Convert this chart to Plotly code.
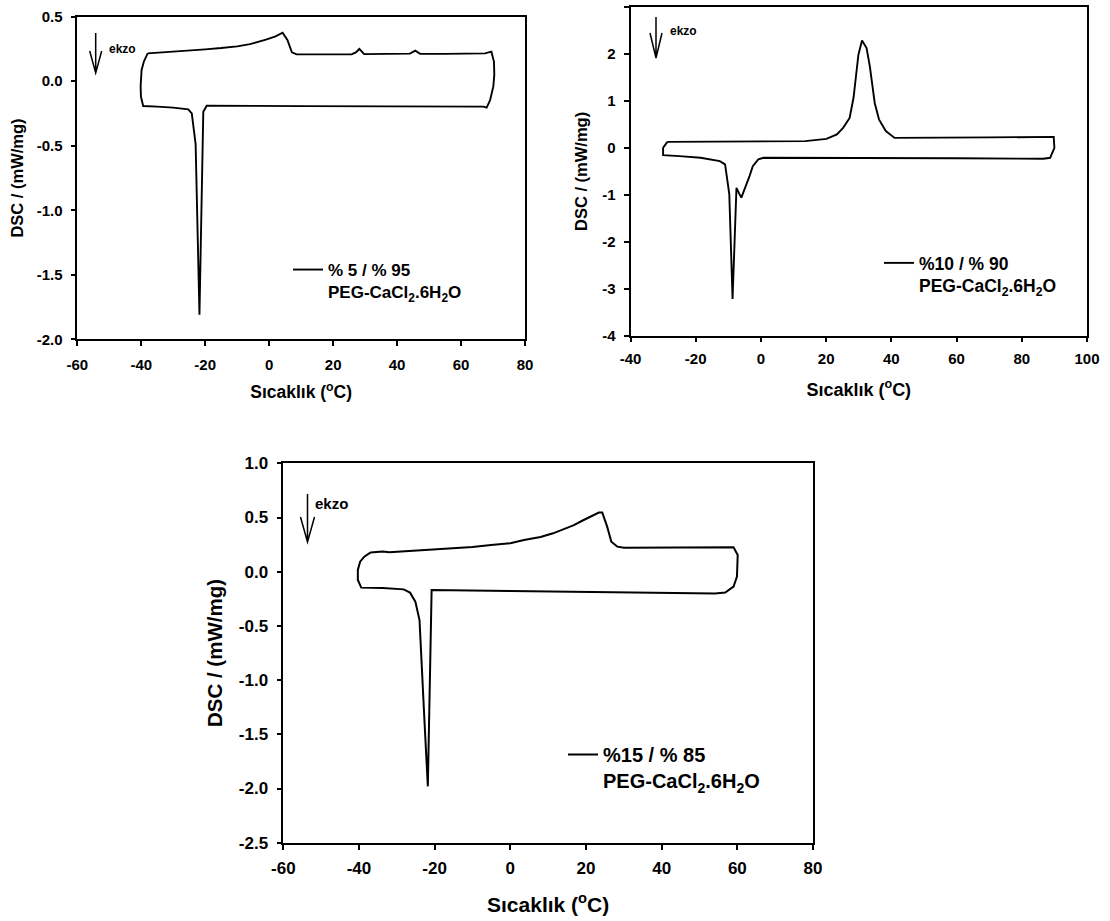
import plotly.graph_objects as go

# ---------------- data ----------------
# Panel A: %5 / %95 PEG-CaCl2.6H2O  (closed DSC loop: heating top, cooling bottom)
t5 = [-38.0, -34, -30, -25, -20, -15, -10, -6, -3.9, -1, 2, 4.2, 5.7, 7.1, 8.6, 15, 25.8, 27.2,
      28.2, 29.7, 35, 44.0, 45.7, 47.2, 55, 67.5, 69.5, 70.3, 70.4, 70.1, 69.1, 68.0, 67.0, 50, 30,
      10, -5, -11.2, -19.55, -20.6, -21.8, -23.0, -24.2, -25.3, -30, -35, -39.4, -40.1, -40.2,
      -39.9, -39.2, -38.0]
d5 = [0.216, 0.222, 0.229, 0.237, 0.247, 0.257, 0.270, 0.288, 0.300, 0.322, 0.348, 0.376, 0.32,
      0.224, 0.208, 0.207, 0.208, 0.225, 0.25, 0.21, 0.21, 0.214, 0.237, 0.213, 0.212, 0.216, 0.229,
      0.15, 0.05, -0.04, -0.146, -0.205, -0.197, -0.197, -0.195, -0.193, -0.191, -0.191, -0.19,
      -0.236, -1.81, -0.487, -0.249, -0.218, -0.205, -0.197, -0.192, -0.12, -0.04, 0.087, 0.151, 0.216]

# Panel B: %10 / %90
t10 = [-28.7, -20, 0, 13.6, 20.1, 23.3, 25.2, 27.2, 28.4, 29.9, 31.0, 32.4, 33.4, 34.9, 36.2, 38.3,
       41.0, 45.8, 70, 89.8, 90.0, 88.7, 86.6, 60, 30, 13.6, 0.8, -0.8, -2.5, -3.5, -5.1, -6.0, -6.7,
       -7.5, -8.7, -9.7, -10.2, -11.0, -12.6, -18.5, -25, -30.0, -30.0, -28.7]
d10 = [0.13, 0.13, 0.135, 0.145, 0.194, 0.29, 0.43, 0.64, 1.07, 1.99, 2.29, 2.13, 1.74, 0.96, 0.61,
       0.36, 0.215, 0.215, 0.225, 0.237, 0.003, -0.21, -0.23, -0.22, -0.21, -0.21, -0.21, -0.245,
       -0.387, -0.6, -0.92, -1.06, -0.97, -0.85, -3.22, -0.99, -0.74, -0.35, -0.28, -0.21, -0.175,
       -0.153, 0.003, 0.13]

# Panel C: %15 / %85
t15 = [-37.0, -35, -33.7, -32.0, -29.3, -20, -16.1, -10, -5.1, 0, 3.6, 8, 11.3, 14, 16.8, 19, 21.2,
       23.4, 24.3, 25.6, 26.7, 28.3, 30.0, 45, 59.0, 60.1, 59.9, 59.0, 56.8, 54.1, 35, 16.8, 0, -20.8,
       -21.8, -22.7, -24.0, -25.1, -26.5, -28.2, -33.7, -39.4, -40.3, -40.3, -39.7, -38.6, -37.0]
d15 = [0.176, 0.185, 0.186, 0.179, 0.185, 0.205, 0.216, 0.228, 0.246, 0.262, 0.293, 0.32, 0.354,
       0.39, 0.43, 0.47, 0.508, 0.545, 0.545, 0.416, 0.277, 0.231, 0.222, 0.222, 0.225, 0.154, -0.046,
       -0.138, -0.193, -0.2, -0.19, -0.184, -0.177, -0.169, -1.98, -1.37, -0.446, -0.276, -0.193,
       -0.163, -0.15, -0.147, -0.076, 0.016, 0.093, 0.139, 0.176]

names = ["% 5 / % 95<br>PEG-CaCl<sub>2</sub>.6H<sub>2</sub>O",
         "%10 / % 90<br>PEG-CaCl<sub>2</sub>.6H<sub>2</sub>O",
         "%15 / % 85<br>PEG-CaCl<sub>2</sub>.6H<sub>2</sub>O"]

xt_a = [-60, -40, -20, 0, 20, 40, 60, 80]
xt_b = [-40, -20, 0, 20, 40, 60, 80, 100]
yt_a = [-2.0, -1.5, -1.0, -0.5, 0.0, 0.5]
yt_b = [-4, -3, -2, -1, 0, 1, 2, 3]
yt_c = [-2.5, -2.0, -1.5, -1.0, -0.5, 0.0, 0.5, 1.0]


def lab(v, fmt):
    return fmt.format(v).replace("\u2212", "-")


W, H = 1110, 921
FONT = "Liberation Sans, Arial, sans-serif"

fig = go.Figure()
fig.add_trace(go.Scatter(x=t5, y=d5, mode="lines", line=dict(color="black", width=1.9),
                         name=names[0], xaxis="x", yaxis="y", legend="legend"))
fig.add_trace(go.Scatter(x=t10, y=d10, mode="lines", line=dict(color="black", width=1.9),
                         name=names[1], xaxis="x2", yaxis="y2", legend="legend2"))
fig.add_trace(go.Scatter(x=t15, y=d15, mode="lines", line=dict(color="black", width=2.0),
                         name=names[2], xaxis="x3", yaxis="y3", legend="legend3"))

# panel frames in pixels (left, right, top, bottom)
P = {
    "a": (77.3, 525.0, 16.7, 339.3),
    "b": (630.5, 1087.0, 7.3, 335.5),
    "c": (283.3, 813.0, 463.3, 842.7),
}


def dom(p):
    l, r, t, b = p
    return [l / W, r / W], [1 - b / H, 1 - t / H]


def tf(size):
    return {"family": FONT, "size": size, "color": "black", "weight": 700}


def xax(domain, anchor, ticks, tfs, ttfs, standoff, tls, rng):
    return dict(domain=domain, anchor=anchor, range=rng, showline=True, mirror=True,
                linecolor="black", linewidth=1.6, ticks="outside", ticklen=5, tickwidth=1.6,
                tickcolor="black", showgrid=False, zeroline=False,
                tickmode="array", tickvals=ticks, ticktext=[lab(v, "{:d}") for v in ticks],
                ticklabelstandoff=tls, tickfont=tf(tfs),
                title=dict(text="Sıcaklık (<sup>o</sup>C)", standoff=standoff, font=tf(ttfs)),
                automargin=False)


def yax(domain, anchor, ticks, fmt, tfs, ttfs, standoff, rng):
    return dict(domain=domain, anchor=anchor, range=rng, showline=True, mirror=True,
                linecolor="black", linewidth=1.6, ticks="outside", ticklen=5, tickwidth=1.6,
                tickcolor="black", showgrid=False, zeroline=False,
                tickmode="array", tickvals=ticks, ticktext=[lab(v, fmt) for v in ticks],
                ticklabelstandoff=5, tickfont=tf(tfs),
                title=dict(text="DSC / (mW/mg)", standoff=standoff, font=tf(ttfs)),
                automargin=False)


xa, ya = dom(P["a"])
xb, yb = dom(P["b"])
xc, yc = dom(P["c"])


def legend_at(lx, ty, fs):
    return dict(x=lx / W, y=1 - ty / H, xanchor="left", yanchor="top", valign="top",
                bgcolor="rgba(0,0,0,0)", borderwidth=0, font=tf(fs))


fig.update_layout(
    width=W, height=H, margin=dict(l=0, r=0, t=0, b=0),
    paper_bgcolor="white", plot_bgcolor="white",
    font=tf(15),
    xaxis=xax(xa, "y", xt_a, 15, 17.5, 14, 6, [-60, 80]),
    yaxis=yax(ya, "x", yt_a, "{:.1f}", 15, 16.5, 9, [-2.0, 0.5]),
    xaxis2=xax(xb, "y2", xt_b, 15, 18, 17, 4, [-40, 100]),
    yaxis2=yax(yb, "x2", yt_b, "{:d}", 15, 16.5, 11, [-4, 3]),
    xaxis3=xax(xc, "y3", xt_a, 17, 21, 20, 4, [-60, 80]),
    yaxis3=yax(yc, "x3", yt_c, "{:.1f}", 17, 20.5, 11, [-2.5, 1.0]),
    showlegend=True,
    legend=legend_at(288, 252, 17),
    legend2=legend_at(879, 245, 17.5),
    legend3=legend_at(563, 735, 20),
)

# "ekzo" arrows (open V head) and labels
arrows = [  # x px, top px, length, head length, half width, label x, label y, font size
    (95.7, 33, 40, 22, 6, 106.7, 49, 12),
    (656, 17, 41, 25, 6, 668, 31, 12),
    (307.5, 494, 48, 25, 7, 313, 503, 15),
]
for ax_, ay_, ln, hl, hw, lx, ly, fs in arrows:
    fig.add_shape(type="path", xref="paper", yref="paper", xsizemode="pixel", ysizemode="pixel",
                  xanchor=ax_ / W, yanchor=1 - ay_ / H,
                  path=f"M0,0 L0,{-ln} M{-hw},{-(ln - hl)} L0,{-ln} L{hw},{-(ln - hl)}",
                  line=dict(color="black", width=1.5))
    fig.add_annotation(x=lx / W, y=1 - ly / H, xref="paper", yref="paper", xanchor="left",
                       yanchor="middle", showarrow=False, text="ekzo", font=tf(fs))

fig.write_html("out.html")
